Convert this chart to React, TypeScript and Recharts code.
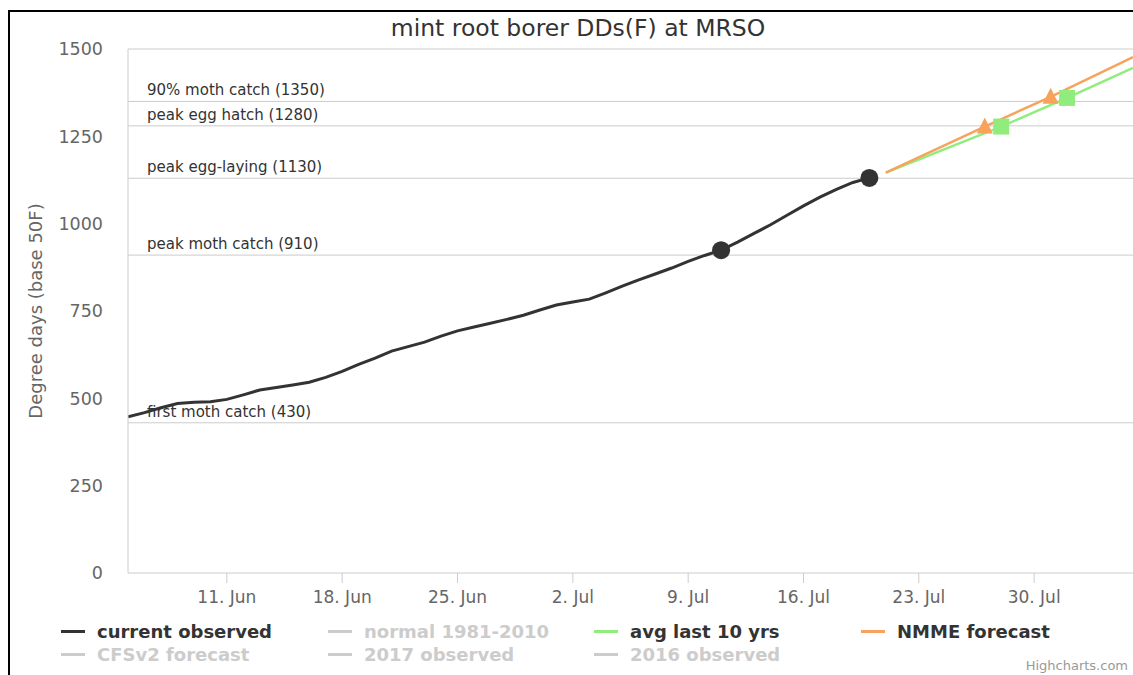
import React from 'react';
import { LineChart, Line, XAxis, YAxis, ReferenceLine } from 'recharts';

// day 0 = 5 Jun
const observedValues = [
  447, 459, 473, 485, 489, 490, 497, 510, 524, 531, 538, 546, 560, 577, 597, 615,
  635, 648, 661, 678, 693, 704, 715, 726, 738, 753, 767, 776, 784, 802, 821, 839,
  856, 873, 892, 909, 924, 947, 972, 997, 1024, 1051, 1076, 1098, 1118, 1131,
];
const observedMarkedDays = [36, 45];

const nmmeDays = [46, 52, 56, 61];
const nmmeValues = [1146, 1278, 1363, 1477];
const nmmeMarkedDays = [52, 56];

const avgDays = [46, 53, 57, 61];
const avgValues = [1146, 1278, 1360, 1446];
const avgMarkedDays = [53, 57];

const tickDays = [6, 13, 20, 27, 34, 41, 48, 55];
const tickLabels = ['11. Jun', '18. Jun', '25. Jun', '2. Jul', '9. Jul', '16. Jul', '23. Jul', '30. Jul'];
const yTicks = [0, 250, 500, 750, 1000, 1250, 1500];

const thresholdValues = [1350, 1280, 1130, 910, 430];
const thresholdNames = ['90% moth catch', 'peak egg hatch', 'peak egg-laying', 'peak moth catch', 'first moth catch'];

const legendNames = ['current observed', 'normal 1981-2010', 'avg last 10 yrs', 'NMME forecast', 'CFSv2 forecast', '2017 observed', '2016 observed'];
const legendColors = ['#333333', '#cccccc', '#90ed7d', '#f7a35c', '#cccccc', '#cccccc', '#cccccc'];
const legendActive = [true, false, true, true, false, false, false];

const FONT = "'DejaVu Sans', sans-serif";

const observedData = observedValues.map((v, i) => ({ day: i, dd: v, mark: observedMarkedDays.includes(i) }));
const nmmeData = nmmeDays.map((d, i) => ({ day: d, dd: nmmeValues[i], mark: nmmeMarkedDays.includes(d) }));
const avgData = avgDays.map((d, i) => ({ day: d, dd: avgValues[i], mark: avgMarkedDays.includes(d) }));

const circleDot = (p: any) =>
  p.payload.mark ? <circle key={p.index} cx={p.cx} cy={p.cy} r={9} fill="#333" /> : <g key={p.index} />;
const triangleDot = (p: any) =>
  p.payload.mark ? (
    <path key={p.index} d={`M${p.cx},${p.cy - 9}L${p.cx + 8},${p.cy + 7}L${p.cx - 8},${p.cy + 7}Z`} fill="#f7a35c" />
  ) : <g key={p.index} />;
const squareDot = (p: any) =>
  p.payload.mark ? <rect key={p.index} x={p.cx - 8} y={p.cy - 8} width={16} height={16} fill="#90ed7d" /> : <g key={p.index} />;

const legendCols = [61, 328, 594, 861];

export default function App() {
  return (
    <div style={{ position: 'absolute', left: 0, top: 0, width: 1133, height: 675, background: '#fff', overflow: 'hidden', fontFamily: FONT }}>
      <div style={{ position: 'absolute', left: 8, top: 10, width: 1125, height: 665, borderTop: '2px solid #000', borderLeft: '2px solid #000' }} />
      <div style={{ position: 'absolute', left: 578, top: 15, transform: 'translateX(-50%)', fontSize: 23.5, lineHeight: '26px', color: '#333', whiteSpace: 'nowrap' }}>
        mint root borer DDs(F) at MRSO
      </div>
      <div style={{ position: 'absolute', left: 0, top: 0 }}>
        <LineChart width={1133} height={675} margin={{ top: 49, right: 0, left: 68, bottom: 72 }}>
          <XAxis
            type="number"
            dataKey="day"
            domain={[0, 61]}
            ticks={tickDays}
            allowDataOverflow
            tickFormatter={(d: number) => tickLabels[tickDays.indexOf(d)]}
            height={30}
            tickSize={10}
            tickMargin={8}
            stroke="#ccc"
            tick={{ fill: '#666', fontSize: 17, fontFamily: FONT }}
          />
          <YAxis
            type="number"
            domain={[0, 1500]}
            ticks={yTicks}
            width={60}
            tickLine={false}
            tickSize={6}
            tickMargin={19}
            stroke="#ccc"
            tick={{ fill: '#666', fontSize: 17.5, fontFamily: FONT }}
            label={(props: any) => {
              const vb = props.viewBox || { x: 68, y: 49, width: 60, height: 524 };
              const cx = vb.x - 33;
              const cy = vb.y + vb.height / 2;
              return (
                <text x={cx} y={cy} transform={`rotate(-90 ${cx} ${cy})`} textAnchor="middle" dominantBaseline="central" fill="#666" fontSize={18} fontFamily={FONT}>
                  Degree days (base 50F)
                </text>
              );
            }}
          />
          <ReferenceLine y={1500} stroke="#ccc" strokeWidth={1} />
          {thresholdValues.map((v, i) => (
            <ReferenceLine
              key={v}
              y={v}
              stroke="#ccc"
              strokeWidth={1}
              label={(props: any) => (
                <text x={props.viewBox.x + 19} y={props.viewBox.y - 6} fill="#333" fontSize={15} fontFamily={FONT}>
                  {`${thresholdNames[i]} (${v})`}
                </text>
              )}
            />
          ))}
          <Line data={avgData} dataKey="dd" type="linear" stroke="#90ed7d" strokeWidth={2.5} dot={squareDot} activeDot={false} isAnimationActive={false} />
          <Line data={nmmeData} dataKey="dd" type="linear" stroke="#f7a35c" strokeWidth={2.5} dot={triangleDot} activeDot={false} isAnimationActive={false} />
          <Line data={observedData} dataKey="dd" type="linear" stroke="#333" strokeWidth={3} dot={circleDot} activeDot={false} isAnimationActive={false} />
        </LineChart>
      </div>
      {legendNames.map((name, i) => {
        const row = i < 4 ? 0 : 1;
        const left = legendCols[i % 4];
        const top = row === 0 ? 620 : 643;
        return (
          <div key={name} style={{ position: 'absolute', left, top, height: 22, display: 'flex', alignItems: 'center', whiteSpace: 'nowrap' }}>
            <div style={{ width: 24, height: 3, background: legendColors[i], marginRight: 12 }} />
            <span style={{ fontSize: 18, fontWeight: 'bold', color: legendActive[i] ? '#333' : '#ccc' }}>{name}</span>
          </div>
        );
      })}
      <div style={{ position: 'absolute', right: 5, top: 658, fontSize: 13, color: '#999' }}>Highcharts.com</div>
    </div>
  );
}
